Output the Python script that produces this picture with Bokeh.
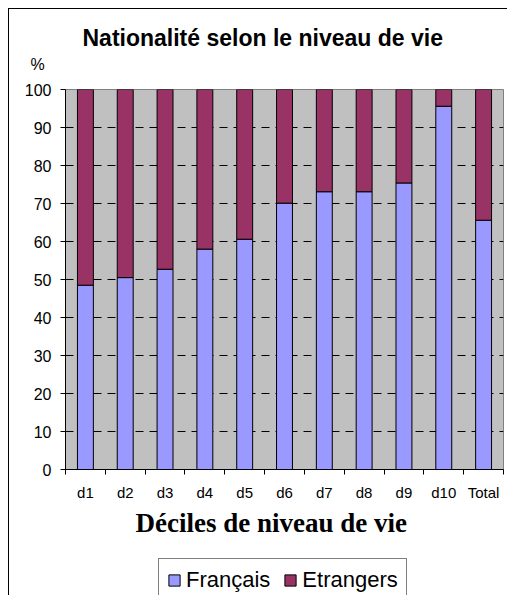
from bokeh.plotting import figure
from bokeh.layouts import column
from bokeh.models import Range1d, FixedTicker, Legend, LegendItem, Title
from bokeh.embed import file_html
from bokeh.resources import INLINE

# ---- data ----
categories = ["d1", "d2", "d3", "d4", "d5", "d6", "d7", "d8", "d9", "d10", "Total"]
francais = [48.5, 50.5, 52.7, 58.0, 60.6, 70.1, 73.1, 73.1, 75.4, 95.6, 65.6]
etrangers = [51.5, 49.5, 47.3, 42.0, 39.4, 29.9, 26.9, 26.9, 24.6, 4.4, 34.4]
series = ["Français", "Etrangers"]
colors = ["#9999FF", "#993366"]
y_ticks = [0, 10, 20, 30, 40, 50, 60, 70, 80, 90, 100]
title_text = "Nationalité selon le niveau de vie"
x_title = "Déciles de niveau de vie"
unit_text = "%"

positions = [i + 0.5 for i in range(len(categories))]
boundaries = list(range(len(categories) + 1))

p = figure(width=498, height=541, output_backend="svg", toolbar_location=None,
           x_range=Range1d(0, len(categories)), y_range=Range1d(0, 100),
           min_border_left=56, min_border_right=4, min_border_top=80, min_border_bottom=81)

source = {"x": positions, series[0]: francais, series[1]: etrangers}
rs = p.vbar_stack(series, x="x", width=0.4, source=source,
                  fill_color=colors, line_color="black", line_width=1)

p.background_fill_color = "#C0C0C0"
p.border_fill_color = "white"
p.outline_line_color = "#808080"

# title
p.title.text = title_text
p.title.align = "left"
p.title.offset = 17
p.title.standoff = 6
p.title.text_font = "Liberation Sans"
p.title.text_font_size = "23px"
p.title.text_font_style = "bold"
p.title.text_color = "black"

# unit label above the y axis
p.add_layout(Title(text=unit_text, align="left", offset=-35, standoff=0,
                   padding=dict(left=0, right=0, top=0, bottom=17),
                   text_font="Liberation Sans", text_font_size="16px",
                   text_font_style="normal", text_color="black"), "above")

# x axis
xa = p.xaxis[0]
xa.ticker = FixedTicker(ticks=positions, minor_ticks=boundaries)
xa.major_label_overrides = {pos: cat for pos, cat in zip(positions, categories)}
xa.major_tick_out = 0
xa.major_tick_in = 0
xa.minor_tick_out = 5
xa.minor_tick_in = 0
xa.minor_tick_line_color = "black"
xa.axis_line_color = "black"
xa.major_label_text_font = "Liberation Sans"
xa.major_label_text_font_size = "15px"
xa.major_label_text_color = "black"
xa.major_label_standoff = 9

# x axis title (below the tick labels)
p.add_layout(Title(text=x_title, align="left", offset=70, standoff=0,
                   padding=dict(left=0, right=0, top=2, bottom=0),
                   text_font="Liberation Serif", text_font_size="27px",
                   text_font_style="bold", text_color="black"), "below")

# y axis
ya = p.yaxis[0]
ya.ticker = FixedTicker(ticks=y_ticks)
ya.major_tick_out = 5
ya.major_tick_in = 0
ya.minor_tick_out = 0
ya.minor_tick_in = 0
ya.major_tick_line_color = "black"
ya.axis_line_color = "black"
ya.major_label_text_font = "Liberation Sans"
ya.major_label_text_font_size = "16px"
ya.major_label_text_color = "black"
ya.major_label_standoff = 9

# grid
p.xgrid.visible = False
p.ygrid.ticker = FixedTicker(ticks=y_ticks[1:-1])
p.ygrid.grid_line_color = "black"
p.ygrid.grid_line_dash = "8 6"
p.ygrid.grid_line_width = 1

# legend strip (separate canvas below the chart); its swatch renderers use the
# same series but lie entirely outside this strip's view, so only the legend shows
lg = figure(width=498, height=45, output_backend="svg", toolbar_location=None,
            x_range=Range1d(100, 101), y_range=Range1d(1000, 1001), min_border=0,
            x_axis_location=None, y_axis_location=None)
lg.title.standoff = 0
lg.xgrid.visible = False
lg.ygrid.visible = False
lg.outline_line_color = None
lg.background_fill_color = "white"
lg.border_fill_color = "white"
swatches = lg.vbar_stack(series, x="x", width=0.4, source=source,
                         fill_color=colors, line_color="black", line_width=1)
legend = Legend(items=[LegendItem(label=s, renderers=[r]) for s, r in zip(series, swatches)],
                orientation="horizontal", location=(93, -7),
                label_text_font="Liberation Sans", label_text_font_size="22px",
                label_text_color="black", glyph_width=14, glyph_height=14,
                label_standoff=5, spacing=13, padding=8, margin=0,
                border_line_color="black", border_line_width=1,
                background_fill_color="white", background_fill_alpha=1.0)
lg.add_layout(legend, "center")

layout = column(p, lg, spacing=0)
layout.styles = {"margin": "8px 0px 0px 8px", "border-left": "1px solid black",
                 "border-top": "1px solid black"}

open("out.html", "w").write(file_html(layout, INLINE))
